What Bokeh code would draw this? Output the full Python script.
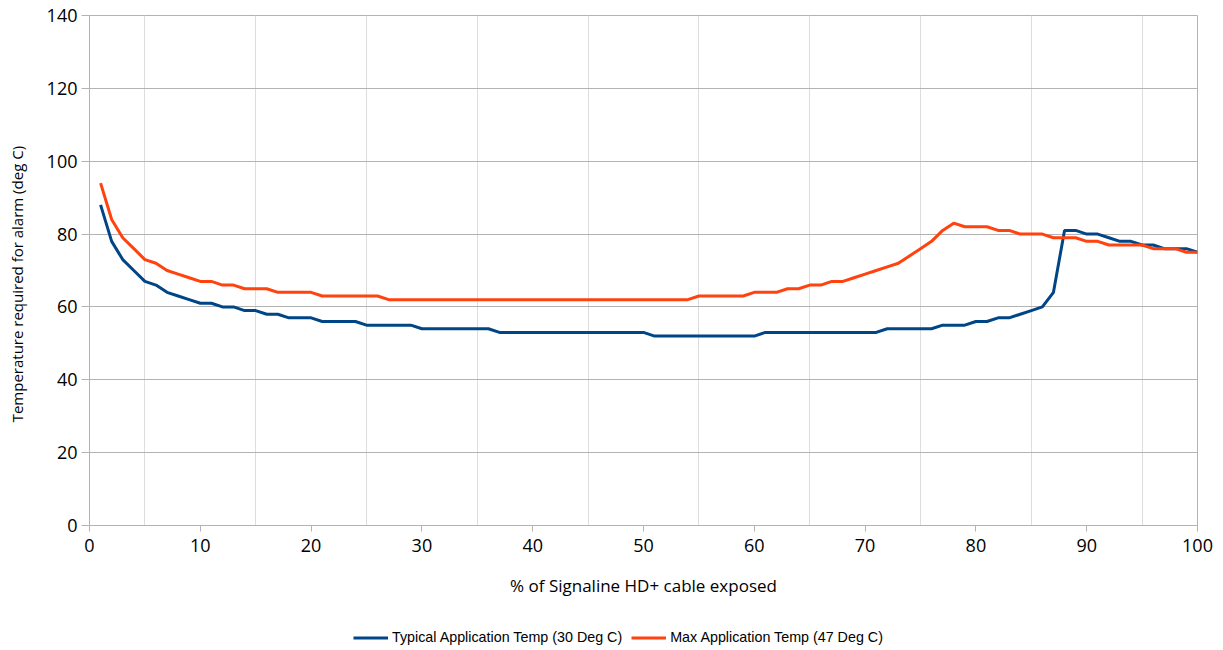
from bokeh.plotting import figure
from bokeh.layouts import column
from bokeh.models import Range1d, FixedTicker, Legend, LegendItem, ColumnDataSource
from bokeh.embed import file_html
from bokeh.resources import INLINE

# ---- data ----
pct_exposed = [
    1, 2, 3, 4, 5, 6, 7, 8, 9, 10,
    11, 12, 13, 14, 15, 16, 17, 18, 19, 20,
    21, 22, 23, 24, 25, 26, 27, 28, 29, 30,
    31, 32, 33, 34, 35, 36, 37, 38, 39, 40,
    41, 42, 43, 44, 45, 46, 47, 48, 49, 50,
    51, 52, 53, 54, 55, 56, 57, 58, 59, 60,
    61, 62, 63, 64, 65, 66, 67, 68, 69, 70,
    71, 72, 73, 74, 75, 76, 77, 78, 79, 80,
    81, 82, 83, 84, 85, 86, 87, 88, 89, 90,
    91, 92, 93, 94, 95, 96, 97, 98, 99, 100,
]
typical_temp = [
    88, 78, 73, 70, 67, 66, 64, 63, 62, 61,
    61, 60, 60, 59, 59, 58, 58, 57, 57, 57,
    56, 56, 56, 56, 55, 55, 55, 55, 55, 54,
    54, 54, 54, 54, 54, 54, 53, 53, 53, 53,
    53, 53, 53, 53, 53, 53, 53, 53, 53, 53,
    52, 52, 52, 52, 52, 52, 52, 52, 52, 52,
    53, 53, 53, 53, 53, 53, 53, 53, 53, 53,
    53, 54, 54, 54, 54, 54, 55, 55, 55, 56,
    56, 57, 57, 58, 59, 60, 64, 81, 81, 80,
    80, 79, 78, 78, 77, 77, 76, 76, 76, 75,
]
max_temp = [
    94, 84, 79, 76, 73, 72, 70, 69, 68, 67,
    67, 66, 66, 65, 65, 65, 64, 64, 64, 64,
    63, 63, 63, 63, 63, 63, 62, 62, 62, 62,
    62, 62, 62, 62, 62, 62, 62, 62, 62, 62,
    62, 62, 62, 62, 62, 62, 62, 62, 62, 62,
    62, 62, 62, 62, 63, 63, 63, 63, 63, 64,
    64, 64, 65, 65, 66, 66, 67, 67, 68, 69,
    70, 71, 72, 74, 76, 78, 81, 83, 82, 82,
    82, 81, 81, 80, 80, 80, 79, 79, 79, 78,
    78, 77, 77, 77, 77, 76, 76, 76, 75, 75,
]
series_names = ["Typical Application Temp (30 Deg C)", "Max Application Temp (47 Deg C)"]
series_colors = ["#004586", "#ff420e"]
x_ticks = [0, 10, 20, 30, 40, 50, 60, 70, 80, 90, 100]
x_minor_grid = [5, 15, 25, 35, 45, 55, 65, 75, 85, 95]
y_ticks = [0, 20, 40, 60, 80, 100, 120, 140]

source = ColumnDataSource(dict(x=pct_exposed, typical=typical_temp, maxt=max_temp))

# ---- main chart ----
p = figure(
    frame_width=1108, frame_height=510,
    x_range=Range1d(0, 100), y_range=Range1d(0, 140),
    output_backend="svg", toolbar_location=None,
    min_border_left=89, min_border_top=15, min_border_right=26, min_border_bottom=100,
)
p.background_fill_color = "white"
p.border_fill_color = "white"
p.outline_line_color = "#b3b3b3"

TICK_FONT = "Open Sans"
for ax in (p.xaxis[0], p.yaxis[0]):
    ax.axis_line_color = "#b3b3b3"
    ax.major_tick_line_color = "#b3b3b3"
    ax.minor_tick_line_color = None
    ax.major_tick_in = 0
    ax.major_label_text_font = TICK_FONT
    ax.major_label_text_font_size = "18px"
    ax.major_label_text_color = "#000000"
    ax.axis_label_text_font = TICK_FONT
    ax.axis_label_text_font_style = "normal"
    ax.axis_label_text_color = "#000000"

p.xaxis.ticker = FixedTicker(ticks=x_ticks)
p.yaxis.ticker = FixedTicker(ticks=y_ticks)
p.xaxis.major_tick_out = 6
p.yaxis.major_tick_out = 8
p.xaxis.major_label_standoff = 7
p.yaxis.major_label_standoff = 4
p.xaxis.axis_label = "% of Signaline HD+ cable exposed"
p.yaxis.axis_label = "Temperature required for alarm (deg C)" + "\u00a0" * 7
p.xaxis.axis_label_text_font_size = "17px"
p.yaxis.axis_label_text_font_size = "15px"
p.xaxis.axis_label_standoff = 19
p.yaxis.axis_label_standoff = 17

p.xgrid.ticker = FixedTicker(ticks=x_minor_grid)
p.xgrid.grid_line_color = "#dddddd"
p.xgrid.grid_line_width = 1
p.ygrid.ticker = FixedTicker(ticks=y_ticks)
p.ygrid.grid_line_color = "#b3b3b3"
p.ygrid.grid_line_width = 1

p.line("x", "typical", source=source, line_color=series_colors[0], line_width=3)
p.line("x", "maxt", source=source, line_color=series_colors[1], line_width=3)

# ---- legend strip (its own small figure under the chart) ----
lg = figure(
    frame_width=1223, frame_height=25,
    x_range=Range1d(0, 100), y_range=Range1d(1000, 1001),
    x_axis_type=None, y_axis_type=None,
    output_backend="svg", toolbar_location=None,
    min_border=0,
)
lg.outline_line_color = None
lg.background_fill_color = "white"
lg.border_fill_color = "white"
lr1 = lg.line("x", "typical", source=source, line_color=series_colors[0], line_width=3)
lr2 = lg.line("x", "maxt", source=source, line_color=series_colors[1], line_width=3)

legend = Legend(
    items=[LegendItem(label=series_names[0], renderers=[lr1]),
           LegendItem(label=series_names[1], renderers=[lr2])],
    orientation="horizontal", location=(353, 5),
    label_text_font="Liberation Sans", label_text_font_size="14.3px",
    label_text_color="#000000",
    glyph_width=35, glyph_height=15, label_height=15, label_standoff=4, spacing=9,
    border_line_alpha=0, background_fill_alpha=0,
    margin=0, padding=0,
)
lg.add_layout(legend, "center")

layout = column(p, lg, spacing=0)
open("out.html", "w").write(file_html(layout, INLINE))
